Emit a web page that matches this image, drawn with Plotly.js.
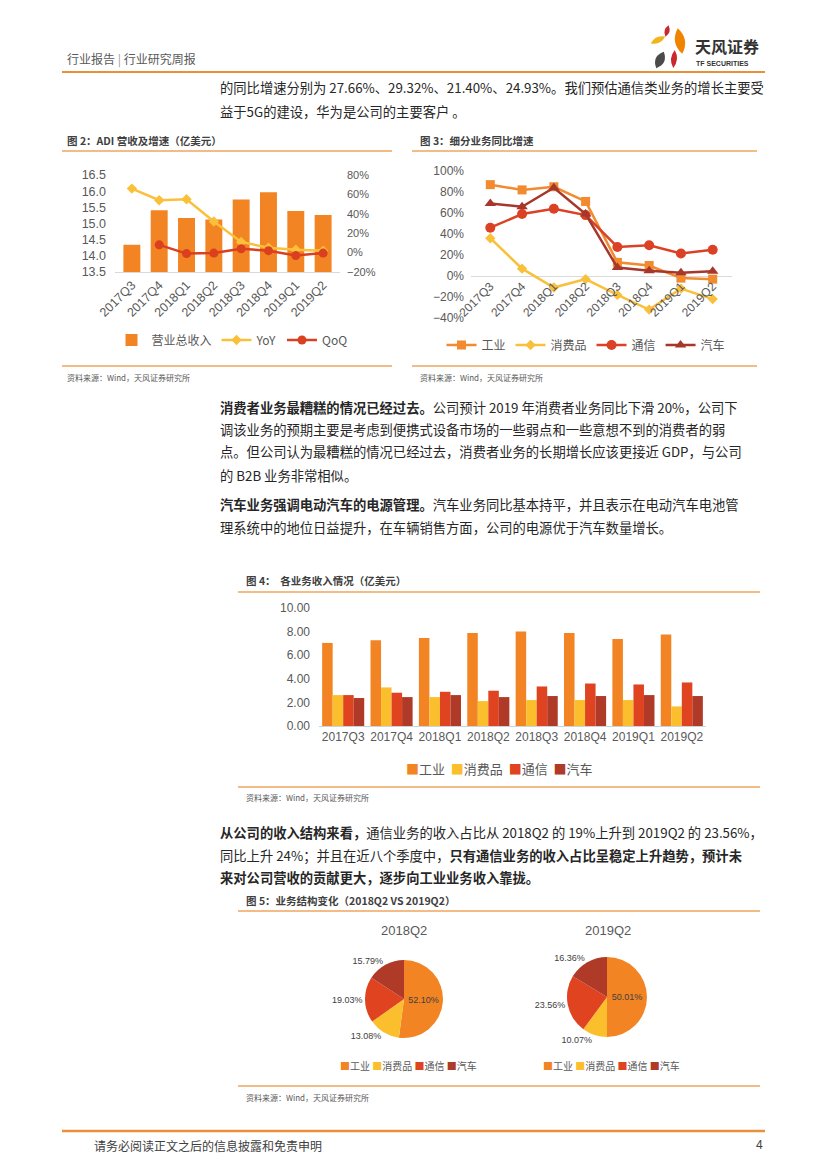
<!DOCTYPE html>
<html>
<head>
<meta charset="utf-8">
<script src="https://cdn.plot.ly/plotly-3.0.1.min.js"></script>
<style>
html,body{margin:0;padding:0;background:#fff;}
#page{width:827px;height:1170px;}
</style>
</head>
<body>
<div id="page"></div>
<script>
// ---------- DATA ----------
const quarters = ['2017Q3','2017Q4','2018Q1','2018Q2','2018Q3','2018Q4','2019Q1','2019Q2'];
// Fig 2: ADI revenue (亿美元) and growth
const revenue = [14.34, 15.41, 15.17, 15.12, 15.74, 15.97, 15.39, 15.26];
const revYoY  = [0.66, 0.54, 0.55, 0.32, 0.11, 0.05, 0.03, 0.02];
const revQoQ  = [null, 0.08, -0.01, -0.005, 0.04, 0.02, -0.03, -0.005];
// Fig 3: segment YoY growth
const segNames = ['工业','消费品','通信','汽车'];
const yoyIndustrial = [0.87, 0.82, 0.85, 0.71, 0.13, 0.10, -0.02, -0.03];
const yoyConsumer   = [0.36, 0.07, -0.11, -0.03, -0.18, -0.32, -0.12, -0.22];
const yoyComm       = [0.46, 0.59, 0.64, 0.58, 0.2766, 0.2932, 0.2140, 0.2493];
const yoyAuto       = [0.69, 0.66, 0.84, 0.59, 0.08, 0.05, 0.03, 0.045];
// Fig 4: segment revenue (亿美元)
const revIndustrial = [7.04, 7.27, 7.46, 7.89, 8.00, 7.89, 7.38, 7.75];
const revConsumer   = [2.62, 3.27, 2.45, 2.11, 2.20, 2.20, 2.20, 1.66];
const revComm       = [2.62, 2.82, 2.90, 2.99, 3.35, 3.60, 3.52, 3.69];
const revAuto       = [2.37, 2.45, 2.62, 2.45, 2.54, 2.54, 2.62, 2.54];
// Fig 5: revenue structure (%)
const pieTitles = ['2018Q2','2019Q2'];
const share2018Q2 = [52.10, 13.08, 19.03, 15.79];
const share2019Q2 = [50.01, 10.07, 23.56, 16.36];

// ---------- HELPERS ----------
const W = 827, H = 1170;
const px = x => x / W;
const py = y => 1 - y / H;
const CJK = '"Noto Sans CJK SC", "Liberation Sans", sans-serif';
const NUM = '"Liberation Sans", Arial, sans-serif';
const GRAY = '#595959';
const C_IND = '#F28423', C_CON = '#FBBF2E', C_COM = '#DF4320', C_AUT = '#B03A28';
const segColors = [C_IND, C_CON, C_COM, C_AUT];

const annotations = [];
function T(x, y, text, size, o) {
  o = o || {};
  annotations.push({
    xref: 'paper', yref: 'paper', x: px(x), y: py(y),
    xanchor: o.xanchor || 'left', yanchor: 'middle', showarrow: false,
    text: text, align: 'left',
    font: {family: o.family || CJK, size: size, color: o.color || '#262626'}
  });
}
const shapes = [];
function L(x0, y0, x1, y1, color, w) {
  shapes.push({type: 'line', xref: 'paper', yref: 'paper',
    x0: px(x0), y0: py(y0), x1: px(x1), y1: py(y1),
    line: {color: color, width: w}});
}
function leaf(cx, cy, len, wid, ang, color) {
  const a = ang * Math.PI / 180;
  const dx = Math.cos(a), dy = -Math.sin(a);
  const nx = -dy, ny = dx;
  const t1 = [cx + dx * len / 2, cy + dy * len / 2];
  const t2 = [cx - dx * len / 2, cy - dy * len / 2];
  const c1 = [cx + nx * wid, cy + ny * wid];
  const c2 = [cx - nx * wid, cy - ny * wid];
  const P = p => px(p[0]).toFixed(5) + ',' + py(p[1]).toFixed(5);
  shapes.push({type: 'path', xref: 'paper', yref: 'paper',
    path: 'M' + P(t1) + ' Q' + P(c1) + ' ' + P(t2) + ' Q' + P(c2) + ' ' + P(t1) + ' Z',
    fillcolor: color, line: {width: 0}});
}
// compact legend drawn as text: coloured square + label for each category
function swatchLegend(names, colors, sep) {
  return names.map((n, i) => '<span style="color:' + colors[i] + '">■</span>' + n).join(sep);
}

// ---------- PAGE DECORATION ----------
T(65, 59, '行业报告 <span style="color:#999">|</span> 行业研究周报', 12, {color: GRAY});
L(62, 72, 765, 72, '#E8913A', 2);
leaf(667, 31, 12, 5, 75, '#C9282D');
leaf(680, 41, 26, 10, 100, '#F08300');
leaf(658, 40, 16, 6, 25, '#F2B41B');
leaf(660, 60, 18, 9, 65, '#4B4B4B');
leaf(674, 59, 18, 6, 85, '#C9282D');
T(693, 46, '<b>天风证券</b>', 16, {color: '#333333'});
T(694, 63, '<b>TF SECURITIES</b>', 7, {color: '#333333', family: NUM});

const BODY = 13.3;
T(218, 88, '的同比增速分别为 27.66%、29.32%、21.40%、24.93%。我们预估通信类业务的增长主要受', BODY);
T(218, 111, '益于5G的建设，华为是公司的主要客户 。', BODY);

// figure titles / rules / sources
T(65, 140, '<b>图 2：ADI 营收及增速（亿美元）</b>', 10.5, {color: '#404040'});
T(418, 140, '<b>图 3：细分业务同比增速</b>', 10.5, {color: '#404040'});
L(62, 151, 392, 151, '#EFA45E', 1.5);
L(412, 151, 757, 151, '#EFA45E', 1.5);
L(62, 366, 392, 366, '#EFA45E', 1.5);
L(412, 366, 757, 366, '#EFA45E', 1.5);
T(65, 378, '资料来源：Wind，天风证券研究所', 8, {color: GRAY});
T(418, 378, '资料来源：Wind，天风证券研究所', 8, {color: GRAY});

T(218, 407, '<b>消费者业务最糟糕的情况已经过去。</b>公司预计 2019 年消费者业务同比下滑 20%，公司下', BODY);
T(218, 429, '调该业务的预期主要是考虑到便携式设备市场的一些弱点和一些意想不到的消费者的弱', BODY);
T(218, 452, '点。但公司认为最糟糕的情况已经过去，消费者业务的长期增长应该更接近 GDP，与公司', BODY);
T(218, 475, '的 B2B 业务非常相似。', BODY);
T(218, 504, '<b>汽车业务强调电动汽车的电源管理。</b>汽车业务同比基本持平，并且表示在电动汽车电池管', BODY);
T(218, 527, '理系统中的地位日益提升，在车辆销售方面，公司的电源优于汽车数量增长。', BODY);

T(244, 580, '<b>图 4：  各业务收入情况（亿美元）</b>', 10.5, {color: '#404040'});
L(238, 592, 760, 592, '#EFA45E', 1.5);
L(238, 787, 760, 787, '#EFA45E', 1.5);
T(244, 797, '资料来源：Wind，天风证券研究所', 8, {color: GRAY});
T(499, 768, swatchLegend(segNames, segColors, '  '), 13, {xanchor: 'center', color: GRAY});

T(218, 832, '<b>从公司的收入结构来看，</b>通信业务的收入占比从 2018Q2 的 19%上升到 2019Q2 的 23.56%，', BODY);
T(218, 855, '同比上升 24%；并且在近八个季度中，<b>只有通信业务的收入占比呈稳定上升趋势，预计未</b>', BODY);
T(218, 877, '<b>来对公司营收的贡献更大，逐步向工业业务收入靠拢。</b>', BODY);

T(244, 900, '<b>图 5：业务结构变化（2018Q2 VS 2019Q2）</b>', 10.5, {color: '#404040'});
L(238, 911, 760, 911, '#EFA45E', 1.5);
L(238, 1086, 760, 1086, '#EFA45E', 1.5);
T(244, 1097, '资料来源：Wind，天风证券研究所', 8, {color: GRAY});
T(404, 930, pieTitles[0], 13, {xanchor: 'center', color: GRAY, family: NUM});
T(608, 930, pieTitles[1], 13, {xanchor: 'center', color: GRAY, family: NUM});
T(408, 1065, swatchLegend(segNames, segColors, ' '), 10, {xanchor: 'center', color: GRAY});
T(611, 1065, swatchLegend(segNames, segColors, ' '), 10, {xanchor: 'center', color: GRAY});

L(62, 1131, 765, 1131, '#E8913A', 2.5);
T(92, 1145, '请务必阅读正文之后的信息披露和免责申明', 12, {color: '#404040'});
T(765, 1145, '4', 12, {xanchor: 'right', color: '#404040', family: NUM});

// ---------- TRACES ----------
const traces = [];
// Fig 2
traces.push({type: 'bar', name: '营业总收入', x: quarters, y: revenue, xaxis: 'x', yaxis: 'y',
  marker: {color: C_IND}, width: 0.62, legend: 'legend'});
traces.push({type: 'scatter', mode: 'lines+markers', name: 'YoY', x: quarters, y: revYoY,
  xaxis: 'x', yaxis: 'y2', line: {color: '#FAC03A', width: 2.5},
  marker: {symbol: 'diamond', size: 8, color: '#FAC03A'}, legend: 'legend'});
traces.push({type: 'scatter', mode: 'lines+markers', name: 'QoQ', x: quarters, y: revQoQ,
  xaxis: 'x', yaxis: 'y2', line: {color: '#DA4020', width: 2.5},
  marker: {symbol: 'circle', size: 9, color: '#DA4020'}, legend: 'legend'});
// Fig 3
const f3 = [
  [yoyIndustrial, '#F28A2F', 'square', 9],
  [yoyConsumer, '#F9C03C', 'diamond', 8],
  [yoyComm, '#DB4124', 'circle', 10],
  [yoyAuto, '#A8372B', 'triangle-up', 10]
];
f3.forEach((s, i) => traces.push({type: 'scatter', mode: 'lines+markers', name: segNames[i],
  x: quarters, y: s[0], xaxis: 'x3', yaxis: 'y3',
  line: {color: s[1], width: 2.5}, marker: {symbol: s[2], size: s[3], color: s[1]}, legend: 'legend2'}));
// Fig 4
const f4 = [revIndustrial, revConsumer, revComm, revAuto];
const bw = 0.2175;
f4.forEach((s, i) => traces.push({type: 'bar', name: segNames[i], x: quarters, y: s,
  xaxis: 'x4', yaxis: 'y4', width: bw, offset: -2 * bw + i * bw,
  marker: {color: segColors[i]}, showlegend: false}));
// Fig 5 pies
function pie(vals, cx, cy, r) {
  return {type: 'pie', labels: segNames, values: vals, sort: false, direction: 'clockwise', rotation: 0,
    domain: {x: [px(cx - r), px(cx + r)], y: [py(cy + r), py(cy - r)]},
    marker: {colors: segColors, line: {width: 0}},
    texttemplate: '%{value:.2f}%', textinfo: 'text',
    textposition: ['inside', 'outside', 'outside', 'outside'],
    insidetextorientation: 'horizontal',
    textfont: {family: NUM, size: 9, color: '#404040'},
    insidetextfont: {family: NUM, size: 9, color: '#404040'},
    outsidetextfont: {family: NUM, size: 9, color: '#404040'},
    hoverinfo: 'none', showlegend: false};
}
traces.push(pie(share2018Q2, 404, 999, 39));
traces.push(pie(share2019Q2, 607, 997, 40));

// ---------- LAYOUT ----------
const tickF = {family: NUM, size: 12, color: GRAY};
const legBase = {orientation: 'h', xanchor: 'center', yanchor: 'middle', bgcolor: 'rgba(0,0,0,0)',
  font: {family: CJK, size: 12, color: GRAY}, traceorder: 'normal', itemwidth: 30};

const layout = {
  width: W, height: H, margin: {l: 0, r: 0, t: 0, b: 0},
  paper_bgcolor: '#ffffff', plot_bgcolor: 'rgba(0,0,0,0)',
  barmode: 'group', bargap: 0.13,
  font: {family: CJK, color: GRAY},
  xaxis: {domain: [px(115), px(340)], anchor: 'y', type: 'category', tickangle: -45,
    tickfont: {family: NUM, size: 12.5, color: GRAY}, showline: true, linecolor: '#d9d9d9', linewidth: 1, showgrid: false,
    ticks: ''},
  yaxis: {domain: [py(272), py(175)], anchor: 'x', range: [13.5, 16.5], dtick: 0.5, tickformat: '.1f',
    tickfont: {family: NUM, size: 12.5, color: GRAY}, showgrid: false, zeroline: false, ticks: '', ticklabelstandoff: 8},
  yaxis2: {overlaying: 'y', side: 'right', anchor: 'x', range: [-0.2, 0.8], dtick: 0.2, tickformat: '.0%',
    tickfont: {family: NUM, size: 11, color: GRAY}, showgrid: false, zeroline: false, ticks: '', ticklabelstandoff: 6},
  xaxis3: {domain: [px(471), px(732)], anchor: 'free', position: py(276), type: 'category', tickangle: -45,
    tickfont: tickF, showline: false, showgrid: false, ticks: ''},
  yaxis3: {domain: [py(318), py(171)], anchor: 'x3', range: [-0.4, 1.0], dtick: 0.2, tickformat: '.0%',
    tickfont: tickF, showgrid: false, zeroline: true, zerolinecolor: '#d9d9d9', zerolinewidth: 1,
    ticks: '', ticklabelstandoff: 6},
  xaxis4: {domain: [px(319), px(706)], anchor: 'y4', type: 'category', tickfont: tickF,
    showline: true, linecolor: '#c8d3e0', linewidth: 1, showgrid: false, ticks: ''},
  yaxis4: {domain: [py(726), py(608)], anchor: 'x4', range: [0, 10], dtick: 2, tickformat: '.2f',
    tickfont: tickF, showgrid: false, zeroline: false, ticks: '', ticklabelstandoff: 8},
  legend: Object.assign({}, legBase, {x: px(232), y: py(340)}),
  legend2: Object.assign({}, legBase, {x: px(586), y: py(345)}),
  showlegend: true,
  annotations: annotations,
  shapes: shapes
};

Plotly.newPlot('page', traces, layout, {staticPlot: true, displayModeBar: false});
</script>
</body>
</html>
